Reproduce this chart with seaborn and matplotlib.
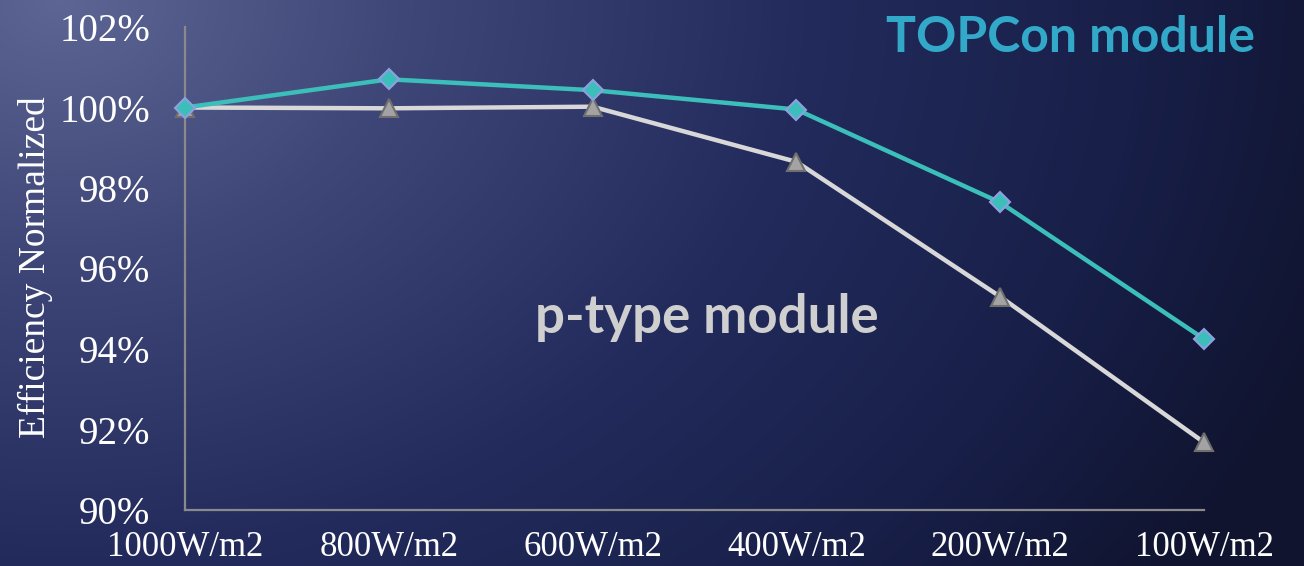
import numpy as np
import pandas as pd
import matplotlib
matplotlib.use("Agg")
import matplotlib.pyplot as plt
from matplotlib.colors import LinearSegmentedColormap
import seaborn as sns

# Irradiance levels and normalized efficiency (%)
irradiance = ["1000W/m2", "800W/m2", "600W/m2", "400W/m2", "200W/m2", "100W/m2"]
topcon_eff = [100.0, 100.7, 100.43, 99.95, 97.64, 94.25]
ptype_eff = [100.0, 99.98, 100.02, 98.65, 95.3, 91.68]
y_ticks = [90, 92, 94, 96, 98, 100, 102]

sns.set_theme(style="white")
plt.rcParams["font.family"] = ["Liberation Serif", "DejaVu Serif"]

W, H, DPI = 1304, 566, 100
fig = plt.figure(figsize=(W / DPI, H / DPI), dpi=DPI)

# Radial background: lighter slate in the upper left fading to deep navy
bg = fig.add_axes([0, 0, 1, 1], zorder=0)
yy, xx = np.mgrid[0:H, 0:W]
r = np.hypot((xx - 60) / 1.0, (yy - 0) / 0.75)
t = np.clip(r / 1350.0, 0, 1)
cmap = LinearSegmentedColormap.from_list(
    "bg", [(0.0, "#5d6594"), (0.25, "#3f4778"), (0.55, "#222b5c"), (0.8, "#181f48"), (1.0, "#10142f")]
)
bg.imshow(t, cmap=cmap, aspect="auto", extent=[0, W, H, 0], vmin=0, vmax=1)
bg.axis("off")

ax = fig.add_axes([185 / W, (H - 510) / H, (1204 - 185) / W, (510 - 27) / H], zorder=1)
ax.patch.set_alpha(0)

df = pd.DataFrame({"irradiance": irradiance, "topcon": topcon_eff, "ptype": ptype_eff})

sns.lineplot(data=df, x="irradiance", y="ptype", ax=ax, sort=False, color="#d8d8d8",
             linewidth=3.2, marker="^", markersize=13, markerfacecolor="#a3a3a3",
             markeredgecolor="#6f6f6f", markeredgewidth=1.5, clip_on=False, zorder=3)
sns.lineplot(data=df, x="irradiance", y="topcon", ax=ax, sort=False, color="#3cbfba",
             linewidth=3.2, marker="D", markersize=10, markerfacecolor="#3cbfba",
             markeredgecolor="#8fa0e0", markeredgewidth=1.5, clip_on=False, zorder=4)

ax.set_xlim(0, len(irradiance) - 1)
ax.set_ylim(90, 102)
ax.set_yticks(y_ticks)
ax.set_yticklabels([f"{v}%" for v in y_ticks])
ax.tick_params(axis="y", labelsize=28, colors="white", length=0, pad=25)
ax.tick_params(axis="x", labelsize=25, colors="white", length=0, pad=15)
ax.set_xlabel("")
ax.set_ylabel("Efficiency Normalized", color="white", fontsize=27)
ax.yaxis.set_label_coords((35 - 185) / (1204 - 185), (510 - 267) / (510 - 27))
ax.yaxis.label.set_verticalalignment("center")

for s in ["top", "right"]:
    ax.spines[s].set_visible(False)
for s in ["left", "bottom"]:
    ax.spines[s].set_color("#8a8a8a")
    ax.spines[s].set_linewidth(1.6)

fig.text(1071 / W, 1 - 37 / H, "TOPCon module", color="#33a9c9", fontsize=36,
         fontweight="bold", family="Lato", ha="center", va="center")
fig.text(707 / W, 1 - 318 / H, "p-type module", color="#cfcfcf", fontsize=38,
         fontweight="bold", family="Lato", ha="center", va="center")

fig.savefig("out.png", dpi=DPI)
